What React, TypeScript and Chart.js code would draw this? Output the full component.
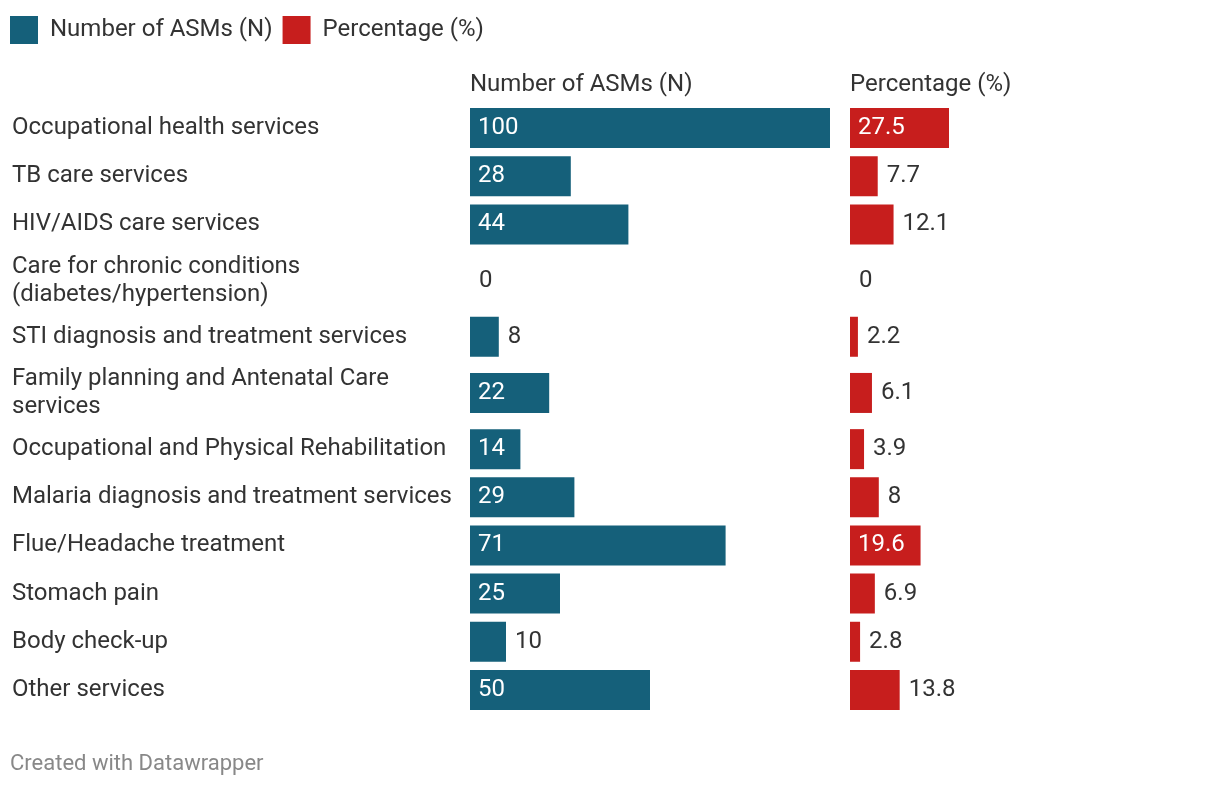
import React, { useEffect, useRef } from "react";
import { Chart, registerables } from "chart.js";

Chart.register(...registerables);

// ---- data ----
const categories: string[] = [
  "Occupational health services",
  "TB care services",
  "HIV/AIDS care services",
  "Care for chronic conditions\n(diabetes/hypertension)",
  "STI diagnosis and treatment services",
  "Family planning and Antenatal Care\nservices",
  "Occupational and Physical Rehabilitation",
  "Malaria diagnosis and treatment services",
  "Flue/Headache treatment",
  "Stomach pain",
  "Body check-up",
  "Other services",
];
const countValues: number[] = [100, 28, 44, 0, 8, 22, 14, 29, 71, 25, 10, 50];
const percentValues: number[] = [27.5, 7.7, 12.1, 0, 2.2, 6.1, 3.9, 8, 19.6, 6.9, 2.8, 13.8];
const seriesNames: string[] = ["Number of ASMs (N)", "Percentage (%)"];
const footerText = "Created with Datawrapper";

// ---- styles ----
const BLUE = "#15607a";
const RED = "#c71e1d";
const TEXT = "#333333";
const FONT = "Roboto";

// row layout: two-line labels get taller rows
const rowHeights = categories.map((c) => (c.split("\n").length > 1 ? 4 / 3 : 1));
const rowCenters: number[] = [];
let acc = 0;
rowHeights.forEach((h) => {
  rowCenters.push(acc + h / 2);
  acc += h;
});
const rowTotal = acc;

const valueLabels = {
  id: "valueLabels",
  afterDatasetsDraw(chart: any) {
    const ctx = chart.ctx as CanvasRenderingContext2D;
    ctx.save();
    ctx.font = `24px ${FONT}`;
    ctx.textBaseline = "middle";
    ctx.textAlign = "left";
    chart.data.datasets.forEach((ds: any, di: number) => {
      const meta = chart.getDatasetMeta(di);
      meta.data.forEach((el: any, i: number) => {
        const v = ds.data[i].x;
        const text = String(v);
        const { x, y, base } = el.getProps(["x", "y", "base"], true);
        const w = Math.abs(x - base);
        const tw = ctx.measureText(text).width;
        if (tw + 16 <= w) {
          ctx.fillStyle = "#ffffff";
          ctx.fillText(text, base + 8, y);
        } else {
          ctx.fillStyle = TEXT;
          ctx.fillText(text, x + 9, y);
        }
      });
    });
    ctx.restore();
  },
};

const headerTitle = (text: string) => ({
  display: true,
  text,
  align: "start" as const,
  color: TEXT,
  font: { family: FONT, size: 24, lineHeight: "28px" },
  padding: { top: 17, bottom: 5 },
});

const hiddenTop = {
  grid: { display: false, drawTicks: false },
  border: { display: false },
  ticks: { display: false },
};

export default function App() {
  const ref = useRef<HTMLCanvasElement>(null);

  useEffect(() => {
    if (!ref.current) return;
    const chart = new Chart(ref.current, {
      type: "bar",
      data: {
        datasets: [
          {
            label: seriesNames[0],
            data: countValues.map((v, i) => ({ x: v, y: rowCenters[i] })),
            xAxisID: "xN",
            yAxisID: "y",
            backgroundColor: BLUE,
            borderWidth: 0,
            inflateAmount: 0,
            barThickness: 40,
            grouped: false,
          } as any,
          {
            label: seriesNames[1],
            data: percentValues.map((v, i) => ({ x: v, y: rowCenters[i] })),
            xAxisID: "xP",
            yAxisID: "y",
            backgroundColor: RED,
            borderWidth: 0,
            inflateAmount: 0,
            barThickness: 40,
            grouped: false,
          } as any,
        ],
      },
      options: {
        indexAxis: "y",
        responsive: false,
        animation: false,
        layout: { padding: { left: 0, right: 10, top: 6, bottom: 74 } },
        plugins: {
          legend: {
            position: "top",
            align: "start",
            labels: {
              boxWidth: 28,
              boxHeight: 28,
              padding: 10,
              color: TEXT,
              font: { family: FONT, size: 24 },
            },
          },
          tooltip: { enabled: false },
        },
        scales: {
          y: {
            type: "linear",
            position: "left",
            reverse: true,
            min: 0,
            max: rowTotal,
            offset: false,
            grid: { display: false, drawTicks: false },
            border: { display: false },
            afterBuildTicks: (s: any) => {
              s.ticks = rowCenters.map((v) => ({ value: v }));
            },
            ticks: {
              mirror: true,
              padding: 4,
              autoSkip: false,
              color: TEXT,
              font: { family: FONT, size: 24, lineHeight: "28px" },
              callback: (_v: any, i: number) => categories[i].split("\n"),
            },
          },
          xLabel: {
            type: "linear",
            position: "top",
            stack: "cols",
            stackWeight: 462,
            weight: 4,
            ...hiddenTop,
            title: headerTitle(""),
          },
          xN: {
            type: "linear",
            position: "top",
            stack: "cols",
            stackWeight: 360,
            weight: 3,
            min: 0,
            max: 100,
            ...hiddenTop,
            title: headerTitle(seriesNames[0]),
          },
          xGap: {
            type: "linear",
            position: "top",
            stack: "cols",
            stackWeight: 20,
            weight: 2,
            ...hiddenTop,
            title: headerTitle(""),
          },
          xP: {
            type: "linear",
            position: "top",
            stack: "cols",
            stackWeight: 360,
            weight: 1,
            min: 0,
            max: 100,
            ...hiddenTop,
            title: headerTitle(seriesNames[1]),
          },
        } as any,
      },
      plugins: [valueLabels],
    });
    return () => chart.destroy();
  }, []);

  return (
    <div
      style={{
        position: "absolute",
        left: 0,
        top: 0,
        width: 1220,
        height: 788,
        background: "#ffffff",
        overflow: "hidden",
      }}
    >
      <canvas ref={ref} width={1220} height={788} style={{ display: "block", width: 1220, height: 788 }} />
      <div
        style={{
          position: "absolute",
          left: 10,
          top: 750,
          fontFamily: FONT,
          fontSize: 22,
          lineHeight: "26px",
          color: "#888888",
          whiteSpace: "nowrap",
        }}
      >
        {footerText}
      </div>
    </div>
  );
}
